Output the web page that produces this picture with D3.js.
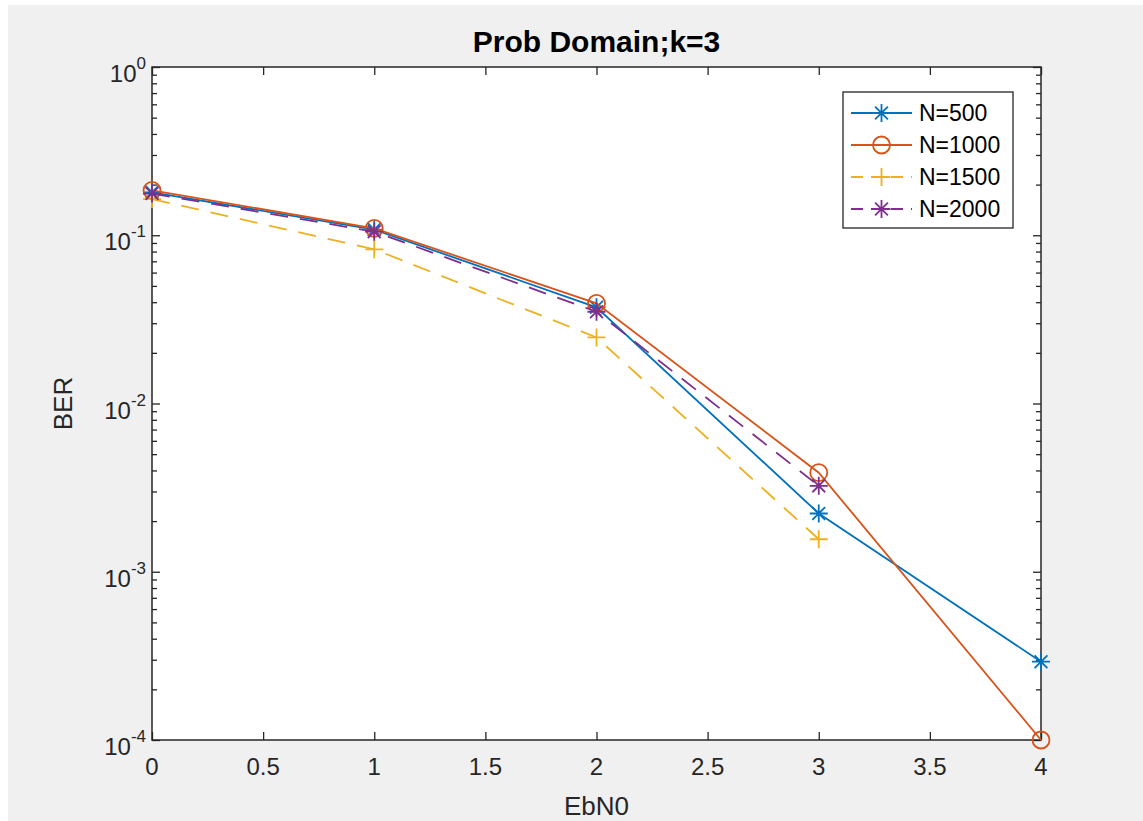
<!DOCTYPE html>
<html>
<head>
<meta charset="utf-8">
<script src="https://cdn.jsdelivr.net/npm/d3@7"></script>
<style>
  body { margin: 0; background: #fff; }
  svg { display: block; font-family: "Liberation Sans", Arial, sans-serif; }
</style>
</head>
<body>
<svg id="chart"></svg>
<script>
// data
const ebn0 = [0, 1, 2, 3, 4];
const seriesNames = ["N=500", "N=1000", "N=1500", "N=2000"];
const ber500 = [0.180, 0.108, 0.0373, 0.00222, 0.000292];
const ber1000 = [0.185, 0.110, 0.0394, 0.00388, 0.0001];
const ber1500 = [0.164, 0.0825, 0.0247, 0.00156];
const ber2000 = [0.177, 0.105, 0.0351, 0.00324];
const xTicks = [0, 0.5, 1, 1.5, 2, 2.5, 3, 3.5, 4];
const yExponents = [0, -1, -2, -3, -4];

const colors = ["#0072BD", "#D95319", "#EDB120", "#7E2F8E"];
const dashes = [null, null, "18,12", "18,12"];
const markers = ["star", "circle", "plus", "star"];
const allSeries = [ber500, ber1000, ber1500, ber2000];

const W = 1143, H = 821;
const margin = {top: 67, right: 102, bottom: 81, left: 152};
const width = W - margin.left - margin.right;
const height = H - margin.top - margin.bottom;
const axisColor = "#262626";

const svg = d3.select("#chart").attr("width", W).attr("height", H);

// figure background
svg.append("rect")
  .attr("x", 8).attr("y", 5)
  .attr("width", W - 8).attr("height", H - 5)
  .attr("fill", "#f0f0f0");

const g = svg.append("g")
  .attr("transform", "translate(" + margin.left + "," + margin.top + ")");

const x = d3.scaleLinear().domain([0, 4]).range([0, width]);
const y = d3.scaleLog().domain([1e-4, 1]).range([height, 0]);

g.append("rect")
  .attr("width", width).attr("height", height)
  .attr("fill", "#fff");

// minor ticks for the log axis
const minor = [];
yExponents.slice(0, 4).forEach(function(e) {
  for (let m = 2; m <= 9; m++) minor.push(m * Math.pow(10, e - 1));
});
const majors = yExponents.map(function(e) { return Math.pow(10, e); });

function styleAxis(sel) {
  sel.select(".domain").remove();
  sel.selectAll("line").attr("stroke", axisColor).attr("stroke-width", 1.3);
  sel.selectAll("text").remove();
}

g.append("g").call(d3.axisLeft(y).tickValues(majors).tickSize(-8).tickFormat("")).call(styleAxis);
g.append("g").call(d3.axisLeft(y).tickValues(minor).tickSize(-5).tickFormat("")).call(styleAxis);
g.append("g").attr("transform", "translate(" + width + ",0)")
  .call(d3.axisRight(y).tickValues(majors).tickSize(-8).tickFormat("")).call(styleAxis);
g.append("g").attr("transform", "translate(" + width + ",0)")
  .call(d3.axisRight(y).tickValues(minor).tickSize(-5).tickFormat("")).call(styleAxis);
g.append("g").attr("transform", "translate(0," + height + ")")
  .call(d3.axisBottom(x).tickValues(xTicks).tickSize(-8).tickFormat("")).call(styleAxis);
g.append("g")
  .call(d3.axisTop(x).tickValues(xTicks).tickSize(-8).tickFormat("")).call(styleAxis);

// tick labels
g.selectAll(".xlab").data(xTicks).enter().append("text")
  .attr("x", function(d) { return x(d); })
  .attr("y", height + 35)
  .attr("text-anchor", "middle")
  .attr("font-size", 24)
  .attr("fill", axisColor)
  .text(function(d) { return d; });

const ylab = g.selectAll(".ylab").data(yExponents).enter().append("text")
  .attr("x", -6)
  .attr("y", function(d) { return y(Math.pow(10, d)) + 15; })
  .attr("text-anchor", "end")
  .attr("font-size", 24)
  .attr("fill", axisColor);
ylab.append("tspan").text("10");
ylab.append("tspan").attr("dy", -13).attr("font-size", 17).text(function(d) { return d; });

// box
g.append("rect")
  .attr("width", width).attr("height", height)
  .attr("fill", "none").attr("stroke", axisColor).attr("stroke-width", 1.5);

// title + axis labels
svg.append("text")
  .attr("x", margin.left + width / 2).attr("y", 52)
  .attr("text-anchor", "middle")
  .attr("font-size", 30).attr("font-weight", "bold")
  .attr("fill", "#000")
  .text("Prob Domain;k=3");

svg.append("text")
  .attr("x", margin.left + width / 2).attr("y", 815)
  .attr("text-anchor", "middle")
  .attr("font-size", 26)
  .attr("fill", axisColor)
  .text("EbN0");

svg.append("text")
  .attr("transform", "translate(72," + (margin.top + height / 2) + ") rotate(-90)")
  .attr("text-anchor", "middle")
  .attr("font-size", 26)
  .attr("fill", axisColor)
  .text("BER");

function drawMarker(sel, type, color) {
  if (type === "circle") {
    sel.append("circle").attr("r", 8.5)
      .attr("fill", "none").attr("stroke", color).attr("stroke-width", 1.8);
  } else if (type === "plus") {
    sel.append("path").attr("d", "M-9,0H9M0,-9V9")
      .attr("stroke", color).attr("stroke-width", 1.8);
  } else {
    sel.append("path").attr("d", "M-9,0H9M0,-9V9M-6.4,-6.4L6.4,6.4M-6.4,6.4L6.4,-6.4")
      .attr("stroke", color).attr("stroke-width", 1.8);
  }
}

const line = d3.line()
  .x(function(d, i) { return x(ebn0[i]); })
  .y(function(d) { return y(d); });

allSeries.forEach(function(vals, si) {
  g.append("path")
    .datum(vals)
    .attr("fill", "none")
    .attr("stroke", colors[si])
    .attr("stroke-width", 1.8)
    .attr("stroke-dasharray", dashes[si])
    .attr("d", line);
  vals.forEach(function(v, i) {
    const m = g.append("g")
      .attr("transform", "translate(" + x(ebn0[i]) + "," + y(v) + ")");
    drawMarker(m, markers[si], colors[si]);
  });
});

// legend
const lg = svg.append("g").attr("transform", "translate(843,92)");
lg.append("rect")
  .attr("width", 170).attr("height", 136)
  .attr("fill", "#fff").attr("stroke", axisColor).attr("stroke-width", 1.3);
seriesNames.forEach(function(name, i) {
  const row = lg.append("g").attr("transform", "translate(0," + (21 + i * 32) + ")");
  row.append("line")
    .attr("x1", 8).attr("x2", 69)
    .attr("stroke", colors[i]).attr("stroke-width", 1.8)
    .attr("stroke-dasharray", dashes[i] ? "12,8" : null);
  const m = row.append("g").attr("transform", "translate(38.5,0)");
  drawMarker(m, markers[i], colors[i]);
  row.append("text")
    .attr("x", 76).attr("y", 8)
    .attr("font-size", 23)
    .attr("fill", "#000")
    .text(name);
});
</script>
</body>
</html>
